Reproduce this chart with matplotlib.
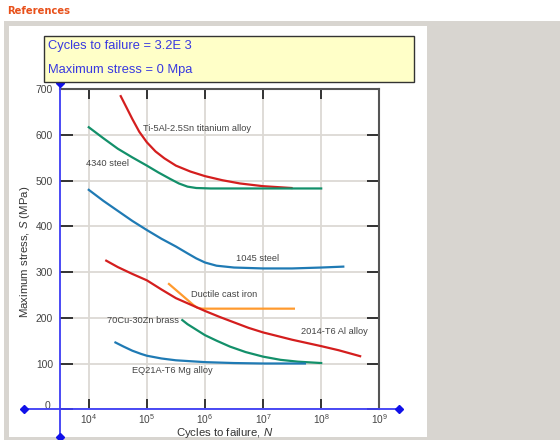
import matplotlib
matplotlib.use('Agg')
import matplotlib.pyplot as plt
import matplotlib.transforms as mtransforms
from matplotlib.patches import Rectangle
from matplotlib.ticker import NullLocator

plt.rcParams['font.family'] = ['Liberation Sans', 'DejaVu Sans']
plt.rcParams['mathtext.fontset'] = 'custom'
plt.rcParams['mathtext.rm'] = 'Liberation Sans'
plt.rcParams['mathtext.it'] = 'Liberation Sans:italic'

# ---------------- data ----------------
x_ticks = [1e4, 1e5, 1e6, 1e7, 1e8, 1e9]
x_tick_labels = [r'$\mathregular{10^{4}}$', r'$\mathregular{10^{5}}$', r'$\mathregular{10^{6}}$',
                 r'$\mathregular{10^{7}}$', r'$\mathregular{10^{8}}$', r'$\mathregular{10^{9}}$']
y_ticks = [0, 100, 200, 300, 400, 500, 600, 700]
y_tick_labels = ['0', '100', '200', '300', '400', '500', '600', '700']

ti_N = [3.55e4, 4.47e4, 5.62e4, 7.41e4, 1.0e5, 1.41e5, 2.0e5, 3.16e5, 5.62e5, 1.0e6,
        2.0e6, 3.98e6, 1.0e7, 3.09e7]
ti_S = [685, 660, 635, 607, 584, 564, 549, 533, 520, 510, 501, 494, 488, 484]

s4340_N = [1.0e4, 1.78e4, 3.16e4, 5.62e4, 1.0e5, 1.58e5, 2.51e5, 3.55e5, 5.01e5, 7.08e5,
           1.26e6, 1.0e7, 1.0e8]
s4340_S = [617, 593, 570, 551, 533, 518, 504, 494, 487, 484, 483, 483, 483]

s1045_N = [1.0e4, 1.78e4, 3.16e4, 5.62e4, 1.0e5, 1.78e5, 3.16e5, 5.01e5, 7.08e5, 1.0e6,
           1.58e6, 3.16e6, 1.0e7, 3.16e7, 1.0e8, 2.4e8]
s1045_S = [480, 456, 434, 412, 392, 373, 356, 341, 330, 321, 314, 310, 308, 308, 310, 312]

iron_N = [2.4e5, 3.98e5, 6.31e5, 7.41e5, 8.91e5, 1.58e6, 3.39e7]
iron_S = [274, 250, 228, 222, 220, 220, 220]

al_N = [2.0e4, 3.16e4, 5.62e4, 1.0e5, 1.78e5, 3.16e5, 5.62e5, 1.0e6, 1.78e6, 3.16e6,
        5.62e6, 1.0e7, 1.78e7, 3.16e7, 1.0e8, 2.0e8, 4.68e8]
al_S = [325, 311, 296, 282, 262, 243, 229, 215, 202, 190, 178, 168, 160, 152, 138, 129, 116]

brass_N = [4.07e5, 5.01e5, 6.31e5, 7.94e5, 1.0e6, 1.58e6, 2.69e6, 5.01e6, 1.0e7, 2.0e7,
           3.98e7, 1.0e8]
brass_S = [195, 186, 178, 170, 162, 150, 137, 125, 115, 108, 104, 101]

mg_N = [2.88e4, 3.98e4, 5.62e4, 7.94e4, 1.0e5, 1.78e5, 3.16e5, 5.62e5, 1.0e6, 3.16e6,
        1.0e7, 5.25e7]
mg_S = [146, 137, 128, 121, 117, 111, 107, 105, 103, 101, 100, 100]

cursor_N = 3.2e3
cursor_S = 0

W, H = 560, 440
fig = plt.figure(figsize=(W / 100, H / 100), dpi=100)
fig.patch.set_facecolor('white')


def fx(px):
    return px / W


def fy(py):
    return 1 - py / H


# page backgrounds
fig.patches.append(Rectangle((fx(4), 0), fx(556), (440 - 21) / H, transform=fig.transFigure,
                             facecolor='#d8d5d0', edgecolor='none', zorder=-10))
fig.patches.append(Rectangle((fx(9), fy(437)), fx(418), (437 - 26) / H, transform=fig.transFigure,
                             facecolor='white', edgecolor='none', zorder=-9))
fig.patches.append(Rectangle((fx(43.6), fy(82)), fx(370), (82 - 35.7) / H, transform=fig.transFigure,
                             facecolor='#ffffc8', edgecolor='#333333', lw=1.0, zorder=1))

fig.text(fx(7), fy(11), 'References', fontsize=7.2, fontweight='bold', color='#e8501a',
         family=['DejaVu Sans'], va='center', ha='left')
fig.text(fx(47.5), fy(46.4), 'Cycles to failure = 3.2E 3', fontsize=9.3, color='#3838e0',
         va='center', ha='left', zorder=2)
fig.text(fx(47.5), fy(69.8), 'Maximum stress = 0 Mpa', fontsize=9.3, color='#3838e0',
         va='center', ha='left', zorder=2)

ax = fig.add_axes([fx(60), fy(409.2), fx(319.3), 319.9 / H])
ax.set_zorder(0)
ax.set_facecolor('white')
ax.set_xscale('log')
ax.set_xlim(cursor_N, 1e9)
ax.set_ylim(0, 700)
ax.xaxis.set_minor_locator(NullLocator())
ax.set_xticks(x_ticks)
ax.set_xticklabels(x_tick_labels)
ax.set_yticks(y_ticks)
ax.set_yticklabels(y_tick_labels)
ax.tick_params(axis='x', direction='in', length=7, width=1.4, color='#333333', top=True,
               labelsize=7.3, labelcolor='#444444', pad=2)
ax.tick_params(axis='y', direction='in', length=9, width=1.4, color='#333333', right=True,
               labelsize=7.4, labelcolor='#444444', pad=5)
ax.grid(True, color='#dcd9d4', lw=1.3)
ax.set_axisbelow(True)
for side in ['left', 'bottom']:
    ax.spines[side].set_visible(False)
for side in ['top', 'right']:
    ax.spines[side].set_color('#555555')
    ax.spines[side].set_linewidth(1.5)

# the "0" label sits a little higher and further left in the reference
zero_lbl = ax.yaxis.get_major_ticks()[0].label1
zero_lbl.set_transform(zero_lbl.get_transform() +
                       mtransforms.ScaledTranslation(-3 / 100, 4 / 100, fig.dpi_scale_trans))

lw = 1.6
ax.plot(ti_N, ti_S, color='#d41e1e', lw=lw, zorder=4)
ax.plot(s4340_N, s4340_S, color='#13906a', lw=lw, zorder=4)
ax.plot(s1045_N, s1045_S, color='#1f7ab4', lw=lw, zorder=4)
ax.plot(iron_N, iron_S, color='#ff9a2e', lw=lw, zorder=4)
ax.plot(al_N, al_S, color='#d41e1e', lw=lw, zorder=4)
ax.plot(brass_N, brass_S, color='#13906a', lw=lw, zorder=4)
ax.plot(mg_N, mg_S, color='#1f7ab4', lw=lw, zorder=4)

lab = dict(fontsize=6.7, color='#444444', va='center', ha='left', zorder=6)
ax.text(10 ** 4.93, 615, 'Ti-5Al-2.5Sn titanium alloy', **lab)
ax.text(10 ** 3.955, 538, '4340 steel', **lab)
ax.text(10 ** 6.54, 330, '1045 steel', **lab)
ax.text(10 ** 5.765, 251, 'Ductile cast iron', **lab)
ax.text(10 ** 4.31, 193, '70Cu-30Zn brass', **lab)
ax.text(10 ** 7.66, 171, '2014-T6 Al alloy', **lab)
ax.text(10 ** 4.74, 85, 'EQ21A-T6 Mg alloy', **lab)

# blue cursor axes
blue = '#3c3cf5'
ax.plot([780, 2.19e9], [cursor_S, cursor_S], color=blue, lw=1.3, clip_on=False, zorder=7)
ax.plot([cursor_N, cursor_N], [-60, 714], color=blue, lw=1.3, clip_on=False, zorder=7)
ax.plot([780, 2.19e9], [cursor_S, cursor_S], 'D', ms=4.2, color='#1010e8', clip_on=False, zorder=8)
ax.plot([cursor_N, cursor_N], [-60, 714], 'D', ms=4.2, color='#1010e8', clip_on=False, zorder=8)

fig.text(fx(25), fy(252), r'Maximum stress, $\mathit{S}$ (MPa)', rotation=90, ha='center',
         va='center', fontsize=8.2, color='#333333')
fig.text(fx(224.5), fy(433), r'Cycles to failure, $\mathit{N}$', ha='center', va='center',
         fontsize=8.2, color='#333333')

fig.savefig('out.png', dpi=100)
